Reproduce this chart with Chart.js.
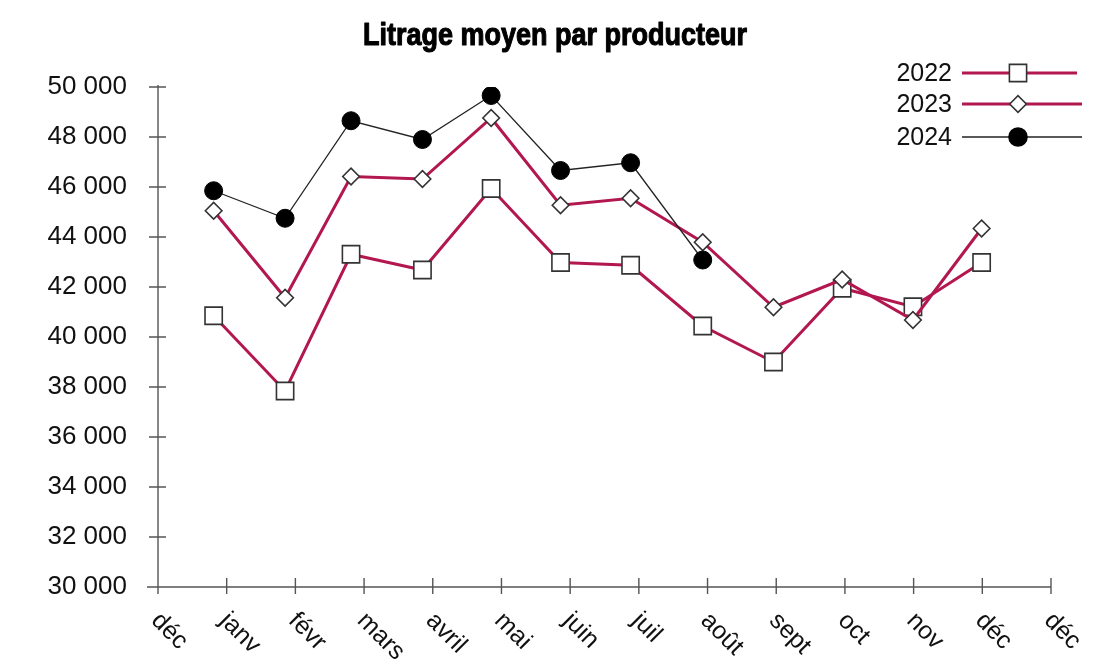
<!DOCTYPE html>
<html><head><meta charset="utf-8">
<script src="https://cdn.jsdelivr.net/npm/chart.js@4/dist/chart.umd.min.js"></script>
<style>html,body{margin:0;padding:0;background:#fff}#wrap{width:1113px;height:669px;position:relative}</style>
</head><body><div id="wrap"><canvas id="c"></canvas></div>
<script>
const chartTitle = 'Litrage moyen par producteur';
const tickLabels = ['déc','janv','févr','mars','avril','mai','juin','juil','août','sept','oct','nov','déc','déc'];
const monthPositions = [0.81, 1.85, 2.81, 3.85, 4.85, 5.86, 6.88, 7.93, 8.96, 9.96, 10.99, 11.99];
const values2022 = [40850, 37840, 43310, 42680, 45940, 42980, 42870, 40440, 39000, 41950, 41210, 42980];
const values2023 = [45050, 41570, 46420, 46320, 48760, 45270, 45550, 43790, 41190, 42300, 40680, 44340];
const values2024 = [45850, 44750, 48650, 47900, 49660, 46660, 46970, 43080];
const seriesNames = ['2022', '2023', '2024'];
const yMin = 30000, yMax = 50000, yStep = 2000;

const CRIMSON = '#b3174f';
const INK = '#111';
const AXIS = '#555';

function pts(vals){ return vals.map((v,i)=>({x: monthPositions[i], y: v})); }
function fmt(v){ return String(v).replace(/\B(?=(\d{3})+(?!\d))/g, ' '); }

function marker(ctx, style, x, y){
  ctx.save();
  ctx.lineWidth = 1.6;
  ctx.strokeStyle = '#333';
  ctx.beginPath();
  if (style === 'rect') { ctx.rect(x-8.6, y-8.6, 17.2, 17.2); ctx.fillStyle='#fff'; }
  else if (style === 'rectRot') { ctx.moveTo(x-8.3,y); ctx.lineTo(x,y-8.3); ctx.lineTo(x+8.3,y); ctx.lineTo(x,y+8.3); ctx.closePath(); ctx.fillStyle='#fff'; }
  else { ctx.arc(x, y, 9, 0, Math.PI*2); ctx.fillStyle='#000'; ctx.strokeStyle='#000'; }
  ctx.fill(); ctx.stroke();
  ctx.restore();
}

const deco = {
  id: 'deco',
  beforeDatasetsDraw(chart){
    const ctx = chart.ctx, xs = chart.scales.x, ys = chart.scales.y, a = chart.chartArea;
    ctx.save();
    ctx.strokeStyle = AXIS; ctx.lineWidth = 1.4;
    ctx.beginPath();
    ctx.moveTo(a.left, a.top - 2); ctx.lineTo(a.left, a.bottom);
    ctx.moveTo(a.left - 11, a.bottom); ctx.lineTo(a.right, a.bottom);
    for (let v = yMin; v <= yMax; v += yStep) {
      const py = ys.getPixelForValue(v);
      ctx.moveTo(a.left - 9, py); ctx.lineTo(a.left + 8, py);
    }
    tickLabels.forEach((l,i)=>{
      const px = xs.getPixelForValue(i);
      ctx.moveTo(px, a.bottom - 9); ctx.lineTo(px, a.bottom + 7);
    });
    ctx.stroke();
    ctx.restore();
  },
  afterDraw(chart){
    const ctx = chart.ctx, xs = chart.scales.x, a = chart.chartArea;
    ctx.save();
    // title: heavy condensed look
    ctx.font = 'bold 31px "Liberation Sans", Arial, sans-serif';
    const w = ctx.measureText(chartTitle).width;
    const sx = 384 / w;
    ctx.save();
    ctx.translate(555, 45);
    ctx.scale(sx, 1);
    ctx.fillStyle = '#000'; ctx.strokeStyle = '#000'; ctx.lineWidth = 1.1; ctx.lineJoin = 'round';
    ctx.textAlign = 'center'; ctx.textBaseline = 'alphabetic';
    ctx.fillText(chartTitle, 0, 0);
    ctx.strokeText(chartTitle, 0, 0);
    ctx.restore();
    // x labels rotated
    ctx.font = '25px "Liberation Sans", Arial, sans-serif';
    ctx.fillStyle = INK; ctx.textAlign = 'left'; ctx.textBaseline = 'middle';
    tickLabels.forEach((l,i)=>{
      const px = xs.getPixelForValue(i);
      ctx.save(); ctx.translate(px - 3, a.bottom + 30); ctx.rotate(Math.PI/4); ctx.fillText(l, 0, 0); ctx.restore();
    });
    // legend
    const rows = [
      {name: seriesNames[0], y: 73, color: CRIMSON, lw: 3, end: 1077, style: 'rect'},
      {name: seriesNames[1], y: 104, color: CRIMSON, lw: 3, end: 1082, style: 'rectRot'},
      {name: seriesNames[2], y: 137, color: '#222', lw: 1.3, end: 1082, style: 'circle'}
    ];
    ctx.font = '25px "Liberation Sans", Arial, sans-serif';
    ctx.textAlign = 'right'; ctx.textBaseline = 'middle';
    rows.forEach(r=>{
      ctx.fillStyle = INK; ctx.fillText(r.name, 952, r.y + 1);
      ctx.strokeStyle = r.color; ctx.lineWidth = r.lw;
      ctx.beginPath(); ctx.moveTo(962, r.y); ctx.lineTo(r.end, r.y); ctx.stroke();
      marker(ctx, r.style, 1018, r.y);
    });
    ctx.restore();
  }
};

new Chart(document.getElementById('c'), {
  type: 'line',
  data: {
    datasets: [
      {label: seriesNames[2], data: pts(values2024), borderColor: '#222', borderWidth: 1.3,
       pointStyle: 'circle', pointRadius: 9, pointBackgroundColor: '#000', pointBorderColor: '#000', pointBorderWidth: 1, order: 0},
      {label: seriesNames[1], data: pts(values2023), borderColor: CRIMSON, borderWidth: 3,
       pointStyle: 'rectRot', pointRadius: 8.3, pointBackgroundColor: '#fff', pointBorderColor: '#333', pointBorderWidth: 1.6, order: 1},
      {label: seriesNames[0], data: pts(values2022), borderColor: CRIMSON, borderWidth: 3,
       pointStyle: 'rect', pointRadius: 12.2, pointBackgroundColor: '#fff', pointBorderColor: '#333', pointBorderWidth: 1.6, order: 2}
    ]
  },
  options: {
    responsive: true, maintainAspectRatio: false, animation: false,
    layout: {padding: {left: 0, right: 62, top: 87, bottom: 0}},
    plugins: {legend: {display: false}, title: {display: false}, tooltip: {enabled: false}},
    elements: {line: {tension: 0}},
    scales: {
      x: {type: 'linear', min: 0, max: tickLabels.length - 1,
          grid: {display: false, drawTicks: false}, border: {display: false},
          ticks: {display: false, stepSize: 1},
          afterFit: s => { s.height = 82; }},
      y: {type: 'linear', min: yMin, max: yMax,
          grid: {display: false, drawTicks: false}, border: {display: false},
          ticks: {stepSize: yStep, padding: 31, color: INK, font: {family: '"Liberation Sans", Arial, sans-serif', size: 26}, callback: v => fmt(v)},
          afterFit: s => { s.width = 158; }}
    }
  },
  plugins: [deco]
});
</script>
</body></html>
